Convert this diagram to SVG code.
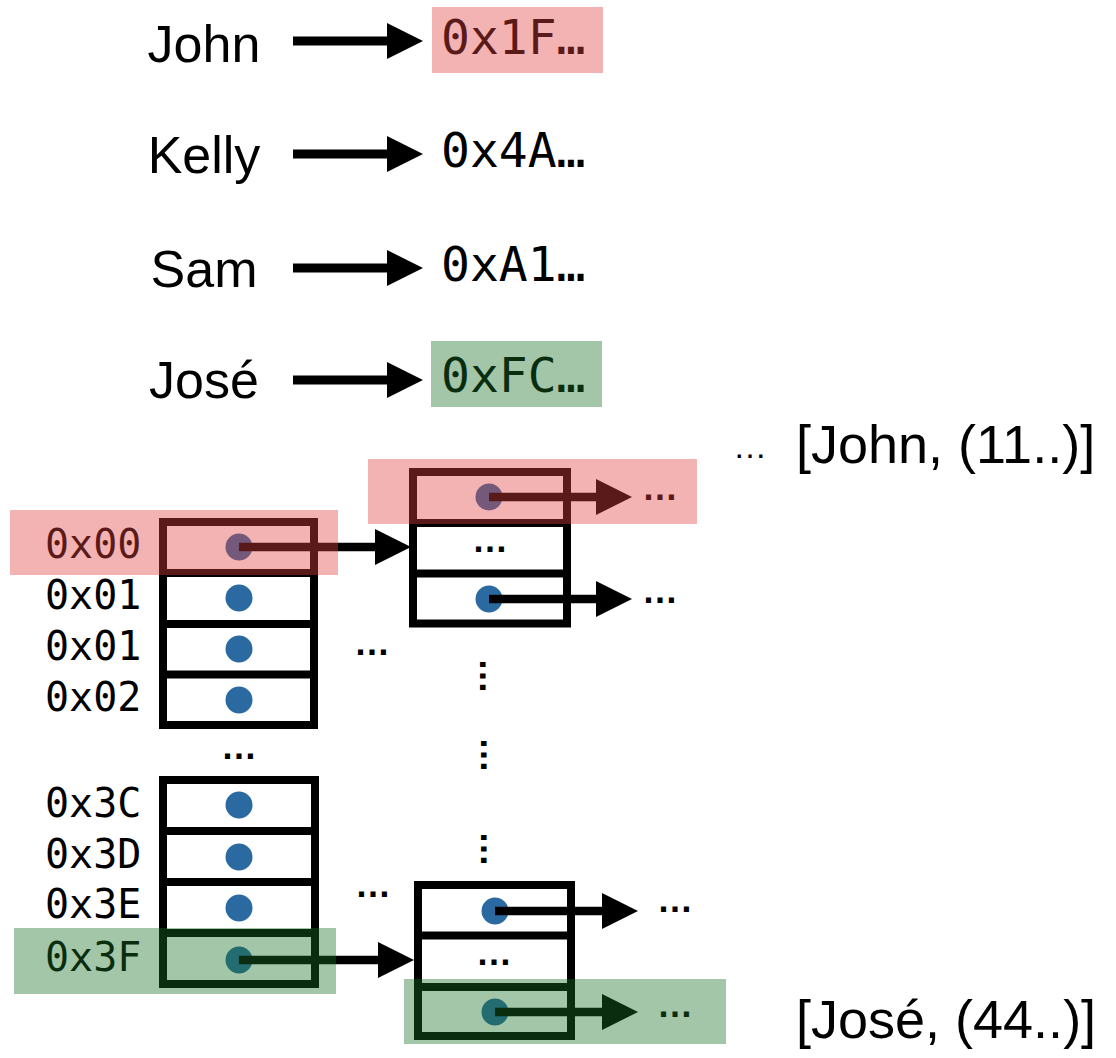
<svg xmlns="http://www.w3.org/2000/svg" width="1116" height="1058" viewBox="0 0 1116 1058">
<style>
.name{font-family:"Liberation Sans",Arial,sans-serif;font-size:52px;fill:#000;text-anchor:middle}
.tuple{font-family:"Liberation Sans",Arial,sans-serif;font-size:54px;fill:#000}
.addr{font-family:"DejaVu Sans Mono","Liberation Mono",monospace;font-size:48px;fill:#000}
.lbl{font-family:"DejaVu Sans Mono","Liberation Mono",monospace;font-size:40px;fill:#000}
.ell{font-family:"Liberation Sans",Arial,sans-serif;font-size:36px;font-weight:bold;fill:#000;text-anchor:middle}
.box{fill:#fff;stroke:#000;stroke-width:8}
.sep{stroke:#000;stroke-width:8}
.dot{fill:#2a6aa0}
.arr{stroke:#000;stroke-width:8.5;fill:none;marker-end:url(#head)}
.arrT{stroke:#000;stroke-width:9;fill:none;marker-end:url(#head)}
.pink{fill:rgb(227,66,66);fill-opacity:0.4}
.green{fill:rgb(25,112,37);fill-opacity:0.4}
</style>
<defs>
<marker id="head" viewBox="0 0 36 36" markerWidth="36" markerHeight="36" markerUnits="userSpaceOnUse" refX="2" refY="18" orient="auto">
<path d="M0,0 L36,18 L0,36 z" fill="#000"/>
</marker>
</defs>

<g id="names">
<text class="name" x="204" y="62">John</text>
<text class="name" x="204" y="173">Kelly</text>
<text class="name" x="204" y="287">Sam</text>
<text class="name" x="204" y="398">José</text>
</g>
<g id="addresses">
<text class="addr" x="441" y="54">0x1F…</text>
<text class="addr" x="441" y="167">0x4A…</text>
<text class="addr" x="441" y="281">0xA1…</text>
<text class="addr" x="441" y="392">0xFC…</text>
</g>

<g id="table-top">
<rect class="box" x="163" y="522" width="151" height="203"/>
<line class="sep" x1="163" y1="573" x2="314" y2="573"/>
<line class="sep" x1="163" y1="624" x2="314" y2="624"/>
<line class="sep" x1="163" y1="674.5" x2="314" y2="674.5"/>
<circle class="dot" cx="239" cy="547" r="13.5"/>
<circle class="dot" cx="239" cy="598" r="13.5"/>
<circle class="dot" cx="239" cy="649" r="13.5"/>
<circle class="dot" cx="239" cy="700" r="13.5"/>
</g>
<g id="table-bottom">
<rect class="box" x="163" y="780" width="152" height="204"/>
<line class="sep" x1="163" y1="831" x2="315" y2="831"/>
<line class="sep" x1="163" y1="882" x2="315" y2="882"/>
<line class="sep" x1="163" y1="933" x2="315" y2="933"/>
<circle class="dot" cx="239" cy="805" r="13.5"/>
<circle class="dot" cx="239" cy="857" r="13.5"/>
<circle class="dot" cx="239" cy="908" r="13.5"/>
<circle class="dot" cx="239" cy="960" r="13.5"/>
</g>
<g id="labels">
<text class="lbl" x="45" y="558">0x00</text>
<text class="lbl" x="45" y="609">0x01</text>
<text class="lbl" x="45" y="660">0x01</text>
<text class="lbl" x="45" y="711">0x02</text>
<text class="lbl" x="45" y="817">0x3C</text>
<text class="lbl" x="45" y="868">0x3D</text>
<text class="lbl" x="45" y="918">0x3E</text>
<text class="lbl" x="45" y="971">0x3F</text>
</g>

<g id="bucket-top">
<rect class="box" x="413" y="472" width="154" height="151.5"/>
<line class="sep" x1="413" y1="523" x2="567" y2="523"/>
<line class="sep" x1="413" y1="573.5" x2="567" y2="573.5"/>
<circle class="dot" cx="489" cy="497" r="13.5"/>
<text class="ell" x="490" y="552">…</text>
<circle class="dot" cx="489" cy="599" r="13.5"/>
</g>
<g id="bucket-bottom">
<rect class="box" x="418" y="885" width="153" height="151"/>
<line class="sep" x1="418" y1="935.5" x2="571" y2="935.5"/>
<line class="sep" x1="418" y1="987" x2="571" y2="987"/>
<circle class="dot" cx="495" cy="911" r="13.5"/>
<text class="ell" x="494" y="965">…</text>
<circle class="dot" cx="495" cy="1012" r="13.5"/>
</g>

<g id="connectors">
<line class="arrT" x1="293" y1="41" x2="389" y2="41"/>
<line class="arrT" x1="293" y1="154" x2="389" y2="154"/>
<line class="arrT" x1="293" y1="268" x2="389" y2="268"/>
<line class="arrT" x1="293" y1="380" x2="389" y2="380"/>
<line class="arr" x1="239" y1="547" x2="377" y2="547"/>
<line class="arr" x1="239" y1="960" x2="380" y2="960"/>
<line class="arr" x1="489" y1="497" x2="598" y2="497"/>
<line class="arr" x1="489" y1="599" x2="598" y2="599"/>
<line class="arr" x1="495" y1="911" x2="604" y2="911"/>
<line class="arr" x1="495" y1="1012" x2="604" y2="1012"/>
</g>

<g id="ellipses">
<text class="ell" x="660" y="500">…</text>
<text class="ell" x="660" y="603">…</text>
<text class="ell" x="675" y="912">…</text>
<text class="ell" x="675" y="1017">…</text>
<text class="ell" x="372" y="655">…</text>
<text class="ell" x="239" y="759">…</text>
<text class="ell" x="373" y="897">…</text>
<text class="ell" x="483" y="679" transform="rotate(90 483 676)">…</text>
<text class="ell" x="484" y="758" transform="rotate(90 484 755)">…</text>
<text class="ell" x="484" y="852" transform="rotate(90 484 849)">…</text>
</g>

<g id="tuples">
<text class="ell" x="750" y="458" style="font-weight:normal;font-size:34px">…</text>
<text class="tuple" x="796" y="463">[John, (11..)]</text>
<text class="tuple" x="796" y="1038">[José, (44..)]</text>
</g>

<g id="highlights">
<rect class="pink" x="432" y="7" width="171" height="66"/>
<rect class="green" x="431" y="341" width="171" height="66"/>
<rect class="pink" x="10" y="510" width="328" height="65"/>
<rect class="pink" x="368" y="459" width="329" height="65"/>
<rect class="green" x="14" y="928" width="322" height="66"/>
<rect class="green" x="404" y="979" width="322" height="65"/>
</g>
</svg>
